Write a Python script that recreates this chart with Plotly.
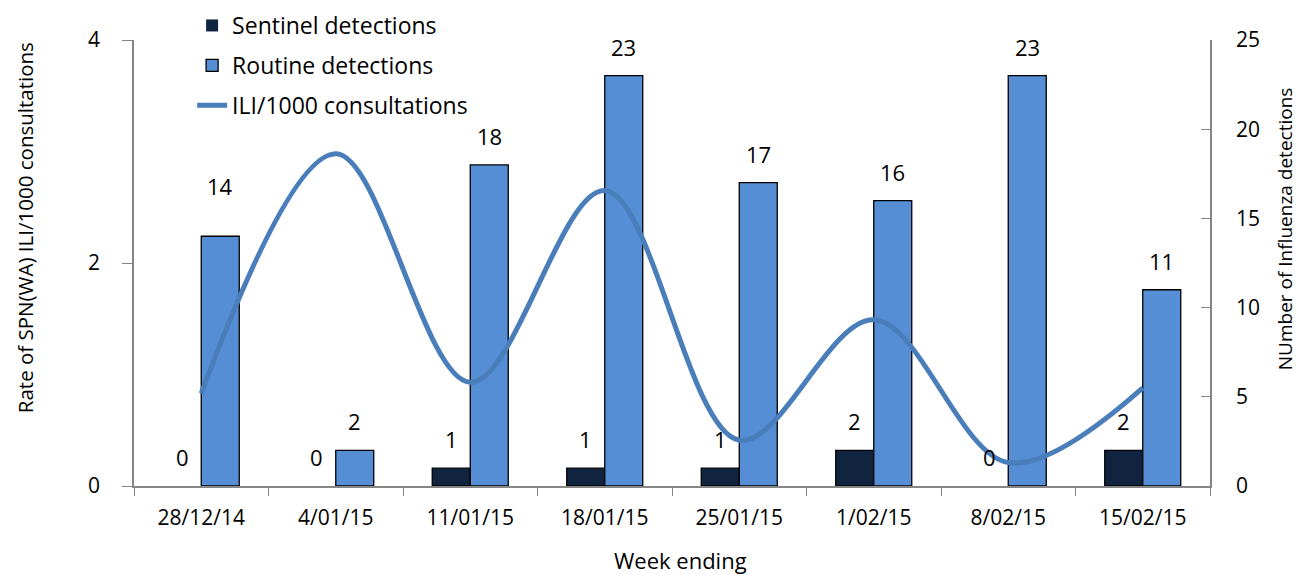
import plotly.graph_objects as go

# data
weeks = ["28/12/14", "4/01/15", "11/01/15", "18/01/15", "25/01/15", "1/02/15", "8/02/15", "15/02/15"]
sentinel = [0, 0, 1, 1, 1, 2, 0, 2]
routine = [14, 2, 18, 23, 17, 16, 23, 11]
ili_rate = [0.83, 2.98, 0.93, 2.65, 0.41, 1.49, 0.21, 0.88]

FONT = "Open Sans"
AXIS_GREY = "#868686"

fig = go.Figure()

# bars on the count axis (drawn first so the line sits on top)
# zero-height bars get no outline, as in the original
fig.add_trace(go.Bar(
    x=weeks, y=sentinel, name="Sentinel detections", legendgroup="s",
    marker=dict(color="#10243F",
                line=dict(color="black", width=[1.3 if v else 0 for v in sentinel])),
    yaxis="y",
))
fig.add_trace(go.Bar(
    x=weeks, y=routine, name="Routine detections", legendgroup="r",
    marker=dict(color="#558ED5",
                line=dict(color="black", width=[1.3 if v else 0 for v in routine])),
    yaxis="y",
))
fig.add_trace(go.Scatter(
    x=weeks, y=ili_rate, name="ILI/1000 consultations", legendgroup="i",
    mode="lines", line=dict(color="#4A7EBB", width=5, shape="spline", smoothing=1.0),
    yaxis="y2",
))

# data labels above the bars
lift = {("routine", 0): 33}
for i, w in enumerate(weeks):
    for key, vals, dx in (("sentinel", sentinel, -19), ("routine", routine, 19)):
        fig.add_annotation(
            x=w, y=vals[i], xref="x", yref="y", text=str(vals[i]),
            showarrow=False, xshift=dx, yanchor="bottom",
            yshift=lift.get((key, i), 12),
            font=dict(family=FONT, size=22, color="black"),
        )

# axis titles
fig.add_annotation(x=-0.1013, y=0.578, xref="paper", yref="paper", textangle=-90,
                   xanchor="center", yanchor="middle",
                   text="Rate of SPN(WA) ILI/1000 consultations", showarrow=False,
                   font=dict(family=FONT, size=20.5, color="black"))
fig.add_annotation(x=1.0697, y=0.578, xref="paper", yref="paper", textangle=-90,
                   xanchor="center", yanchor="middle",
                   text="NUmber of Influenza detections", showarrow=False,
                   font=dict(family=FONT, size=19, color="black"))
fig.add_annotation(x=0.508, y=-0.166, xref="paper", yref="paper",
                   xanchor="center", yanchor="middle",
                   text="Week ending", showarrow=False,
                   font=dict(family=FONT, size=22, color="black"))

# page body adds an 8px margin, so left/top margins are reduced by 8
fig.update_layout(
    width=1308, height=575,
    margin=dict(l=126, r=106, t=32, b=97, autoexpand=False),
    paper_bgcolor="white", plot_bgcolor="white",
    font=dict(family=FONT, size=21, color="black"),
    barmode="group", bargap=0.435, bargroupgap=0,
    showlegend=True,
    legend=dict(
        x=0.054, y=1.0807, xanchor="left", yanchor="top",
        font=dict(family=FONT, size=23),
        traceorder="grouped", tracegroupgap=7,
        bgcolor="rgba(0,0,0,0)",
    ),
    xaxis=dict(
        type="category", showgrid=False, showline=True, linecolor=AXIS_GREY, linewidth=1.5,
        ticks="outside", tickson="boundaries", ticklen=8, tickcolor=AXIS_GREY,
        tickfont=dict(size=21), ticklabelstandoff=12,
    ),
    yaxis=dict(
        side="right", range=[0, 25], dtick=5, showgrid=False, zeroline=False,
        showline=True, linecolor=AXIS_GREY, linewidth=1.5,
        ticks="inside", ticklen=9, tickcolor=AXIS_GREY, tickfont=dict(size=21),
        ticklabelstandoff=20,
    ),
    yaxis2=dict(
        side="left", overlaying="y", range=[0, 4], dtick=2, showgrid=False, zeroline=False,
        showline=True, linecolor=AXIS_GREY, linewidth=1.5,
        ticks="outside", ticklen=10, tickcolor=AXIS_GREY, tickfont=dict(size=21),
        ticklabelstandoff=18,
    ),
)

fig.write_html("out.html")
